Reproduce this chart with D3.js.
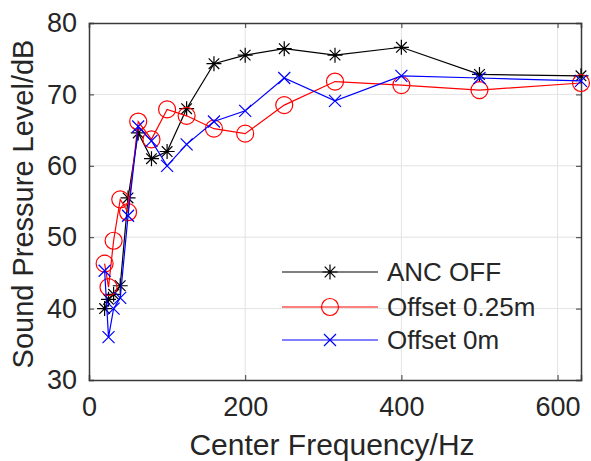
<!DOCTYPE html>
<html>
<head>
<meta charset="utf-8">
<script src="https://cdn.jsdelivr.net/npm/d3@7"></script>
<style>
  body { margin: 0; background: #fff; }
  text { font-family: "Liberation Sans", Arial, sans-serif; fill: #262626; }
</style>
</head>
<body>
<script>
"use strict";

// 1/3 octave centre frequencies (Hz)
var freqs = [20, 25, 31.5, 40, 50, 63, 80, 100, 125, 160, 200, 250, 315, 400, 500, 630];
var ancOff = [40, 41.3, 42, 43.2, 55.5, 64.6, 61, 62, 68, 74.3, 75.5, 76.4, 75.5, 76.6, 72.8, 72.6];
var offset025 = [46.3, 43, 49.5, 55.3, 53.5, 66.2, 63.7, 67.9, 67, 65.2, 64.5, 68.5, 71.8, 71.3, 70.6, 71.6];
var offset0 = [45.3, 36, 40, 41.5, 53, 65.5, 63.5, 60, 63, 66.2, 67.7, 72.3, 69.1, 72.6, 72.3, 71.9];

var xTicks = [0, 200, 400, 600];
var yTicks = [30, 40, 50, 60, 70, 80];
var seriesNames = ["ANC OFF", "Offset 0.25m", "Offset 0m"];

var W = 591, H = 461;
var margin = {top: 23, right: 10, bottom: 81, left: 89};
var width = W - margin.left - margin.right;
var height = H - margin.top - margin.bottom;

var x = d3.scaleLinear().domain([0, 630]).range([0, width]);
var y = d3.scaleLinear().domain([30, 80]).range([height, 0]);

var svg = d3.select("body").append("svg")
    .attr("width", W)
    .attr("height", H);

var g = svg.append("g")
    .attr("transform", "translate(" + margin.left + "," + margin.top + ")");

// grid
g.append("g").selectAll("line")
    .data(xTicks.filter(function(d) { return d > 0; }))
    .enter().append("line")
    .attr("x1", function(d) { return x(d); })
    .attr("x2", function(d) { return x(d); })
    .attr("y1", 0).attr("y2", height)
    .attr("stroke", "#e3e3e3").attr("stroke-width", 1);

g.append("g").selectAll("line")
    .data(yTicks.slice(1, -1))
    .enter().append("line")
    .attr("x1", 0).attr("x2", width)
    .attr("y1", function(d) { return y(d); })
    .attr("y2", function(d) { return y(d); })
    .attr("stroke", "#e3e3e3").attr("stroke-width", 1);

// axes
var axisColor = "#3a3a3a";
var tickLen = 5;

var xAxis = g.append("g")
    .attr("transform", "translate(0," + height + ")")
    .call(d3.axisBottom(x).tickValues(xTicks).tickSize(-tickLen).tickPadding(17));
var xAxisTop = g.append("g")
    .call(d3.axisTop(x).tickValues(xTicks).tickSize(-tickLen).tickFormat(""));
var yAxis = g.append("g")
    .call(d3.axisLeft(y).tickValues(yTicks).tickSize(-tickLen).tickPadding(12));
var yAxisRight = g.append("g")
    .attr("transform", "translate(" + width + ",0)")
    .call(d3.axisRight(y).tickValues(yTicks).tickSize(-tickLen).tickFormat(""));

[xAxis, xAxisTop, yAxis, yAxisRight].forEach(function(a) {
    a.select(".domain").attr("stroke", axisColor).attr("stroke-width", 1.5);
    a.selectAll(".tick line").attr("stroke", axisColor).attr("stroke-width", 1);
    a.selectAll("text")
        .style("font-family", "'Liberation Sans', Arial, sans-serif")
        .style("font-size", "27px")
        .attr("fill", "#262626");
});

// axis labels
svg.append("text")
    .attr("x", 332)
    .attr("y", 455)
    .attr("text-anchor", "middle")
    .style("font-size", "30px")
    .text("Center Frequency/Hz");

svg.append("text")
    .attr("transform", "translate(33,204) rotate(-90)")
    .attr("text-anchor", "middle")
    .style("font-size", "29px")
    .text("Sound Pressure Level/dB");

// markers
function star(sel, s) {
    var r = s / 2;
    var d = "";
    for (var i = 0; i < 4; i++) {
        var a = i * Math.PI / 4;
        d += "M" + (-r * Math.cos(a)) + "," + (-r * Math.sin(a)) + "L" + (r * Math.cos(a)) + "," + (r * Math.sin(a));
    }
    sel.append("path").attr("d", d);
}
function circle(sel, s) {
    sel.append("circle").attr("r", s / 2).attr("fill", "none");
}
function cross(sel, s) {
    var r = s / 2;
    sel.append("path").attr("d", "M" + (-r) + "," + (-r) + "L" + r + "," + r + "M" + (-r) + "," + r + "L" + r + "," + (-r));
}

var series = [
    {name: seriesNames[0], values: ancOff, color: "#000000", marker: star, size: 15},
    {name: seriesNames[1], values: offset025, color: "#ff0000", marker: circle, size: 17},
    {name: seriesNames[2], values: offset0, color: "#0000ff", marker: cross, size: 12}
];

var line = d3.line()
    .x(function(d, i) { return x(freqs[i]); })
    .y(function(d) { return y(d); });

series.forEach(function(s) {
    g.append("path")
        .datum(s.values)
        .attr("fill", "none")
        .attr("stroke", s.color)
        .attr("stroke-width", 1.2)
        .attr("d", line);

    g.selectAll(null)
        .data(s.values)
        .enter().append("g")
        .attr("transform", function(d, i) { return "translate(" + x(freqs[i]) + "," + y(d) + ")"; })
        .attr("stroke", s.color)
        .attr("stroke-width", 1.2)
        .attr("fill", "none")
        .each(function() { s.marker(d3.select(this), s.size); });
});

// legend
var legendY = [272, 307, 340];
series.forEach(function(s, i) {
    var lg = svg.append("g").attr("transform", "translate(0," + legendY[i] + ")");
    lg.append("line")
        .attr("x1", 282).attr("x2", 378)
        .attr("y1", 0).attr("y2", 0)
        .attr("stroke", s.color).attr("stroke-width", 1.2);
    var m = lg.append("g")
        .attr("transform", "translate(330,0)")
        .attr("stroke", s.color).attr("stroke-width", 1.2).attr("fill", "none");
    s.marker(m, s.size);
    lg.append("text")
        .attr("x", 387)
        .attr("y", 0)
        .attr("dy", "0.35em")
        .style("font-size", "26px")
        .text(s.name);
});
</script>
</body>
</html>
